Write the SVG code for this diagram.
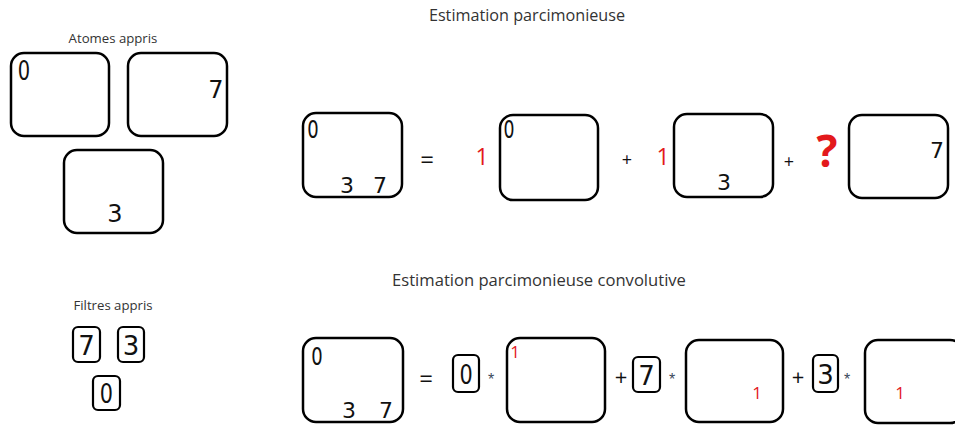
<svg xmlns="http://www.w3.org/2000/svg" width="955" height="425" viewBox="0 0 955 425">
<style>
.box{fill:#fff;stroke:#000;stroke-width:2.5}
.fbox{fill:#fff;stroke:#000;stroke-width:2.2}
.title{font-family:"Open Sans","Liberation Sans",sans-serif;fill:#333;text-anchor:middle}
.dig{font-family:"DejaVu Sans","Liberation Sans",sans-serif;fill:#111;text-anchor:middle}
.red{font-family:"Open Sans","Liberation Sans",sans-serif;fill:#e3191c;text-anchor:middle}
.op{font-family:"Open Sans","Liberation Sans",sans-serif;fill:#111;text-anchor:middle}
.star{font-family:"Liberation Sans",sans-serif;fill:#3b4a5c;text-anchor:middle;font-size:16px}
</style>
<rect width="955" height="425" fill="#fff"/>

<g id="titles">
<text class="title" x="113" y="43" font-size="13.2">Atomes appris</text>
<text class="title" x="527" y="21" font-size="16.2">Estimation parcimonieuse</text>
<text class="title" x="539" y="286" font-size="16.6">Estimation parcimonieuse convolutive</text>
<text class="title" x="113" y="310" font-size="13.2">Filtres appris</text>
</g>

<g id="atom0"><rect class="box" x="11" y="53" width="98" height="83" rx="13"/><text class="dig" x="24" y="80" font-size="27" transform="translate(24 80) scale(0.72 1) translate(-24 -80)">0</text></g>
<g id="atom7"><rect class="box" x="128" y="53" width="99" height="83" rx="13"/><text class="dig" x="216" y="98" font-size="24">7</text></g>
<g id="atom3"><rect class="box" x="64" y="150" width="99" height="83" rx="13"/><text class="dig" x="115" y="222" font-size="24">3</text></g>

<g id="eq1-lhs"><rect class="box" x="303" y="113" width="99" height="84" rx="13"/>
<text class="dig" x="313" y="138" font-size="25" transform="translate(313 138) scale(0.72 1) translate(-313 -138)">0</text>
<text class="dig" x="347" y="193" font-size="22">3</text>
<text class="dig" x="380" y="193" font-size="22">7</text></g>
<text class="op" x="427" y="168" font-size="24">=</text>
<text class="red" x="482" y="165" font-size="23">1</text>
<g id="eq1-t1"><rect class="box" x="500" y="115" width="98" height="85" rx="13"/><text class="dig" x="509" y="138" font-size="24" transform="translate(509 138) scale(0.72 1) translate(-509 -138)">0</text></g>
<text class="op" x="627" y="166" font-size="18">+</text>
<text class="red" x="663" y="165" font-size="23">1</text>
<g id="eq1-t2"><rect class="box" x="674" y="114" width="99" height="83" rx="13"/><text class="dig" x="724" y="190" font-size="22">3</text></g>
<text class="op" x="789" y="168" font-size="18">+</text>
<text class="red" x="827" y="167" font-size="44" font-weight="bold">?</text>
<g id="eq1-t3"><rect class="box" x="849" y="115" width="99" height="83" rx="13"/><text class="dig" x="937" y="158" font-size="22">7</text></g>

<g id="filter7"><rect class="fbox" x="73" y="327" width="27" height="35" rx="5"/><text class="dig" x="86.5" y="355" font-size="26">7</text></g>
<g id="filter3"><rect class="fbox" x="118" y="327" width="26" height="35" rx="5"/><text class="dig" x="131" y="355" font-size="26">3</text></g>
<g id="filter0"><rect class="fbox" x="93" y="376" width="27" height="34" rx="5"/><text class="dig" x="106.5" y="403" font-size="26" transform="translate(106.5 403) scale(0.8 1) translate(-106.5 -403)">0</text></g>

<g id="eq2-lhs"><rect class="box" x="303" y="338" width="100" height="84" rx="13"/>
<text class="dig" x="317" y="365" font-size="25" transform="translate(317 365) scale(0.72 1) translate(-317 -365)">0</text>
<text class="dig" x="349" y="418" font-size="22">3</text>
<text class="dig" x="386" y="418" font-size="22">7</text></g>
<text class="op" x="426" y="387" font-size="24">=</text>
<g id="eq2-f0"><rect class="fbox" x="453" y="355" width="26" height="37" rx="5"/><text class="dig" x="466" y="384" font-size="26" transform="translate(466 384) scale(0.8 1) translate(-466 -384)">0</text></g>
<text class="star" x="491" y="385">*</text>
<g id="eq2-t1"><rect class="box" x="507" y="338" width="98" height="84" rx="13"/><text class="red" x="515" y="358" font-size="17">1</text></g>
<text class="op" x="621" y="385" font-size="22">+</text>
<g id="eq2-f7"><rect class="fbox" x="633" y="357" width="27" height="35" rx="5"/><text class="dig" x="646.5" y="385" font-size="26">7</text></g>
<text class="star" x="672" y="385">*</text>
<g id="eq2-t2"><rect class="box" x="686" y="340" width="97" height="82" rx="13"/><text class="red" x="757" y="399" font-size="17">1</text></g>
<text class="op" x="798" y="385" font-size="22">+</text>
<g id="eq2-f3"><rect class="fbox" x="813" y="355" width="25" height="37" rx="5"/><text class="dig" x="825.5" y="384" font-size="26">3</text></g>
<text class="star" x="847" y="385">*</text>
<g id="eq2-t3"><rect class="box" x="865" y="340" width="98" height="83" rx="13"/><text class="red" x="900" y="399" font-size="17">1</text></g>
</svg>
